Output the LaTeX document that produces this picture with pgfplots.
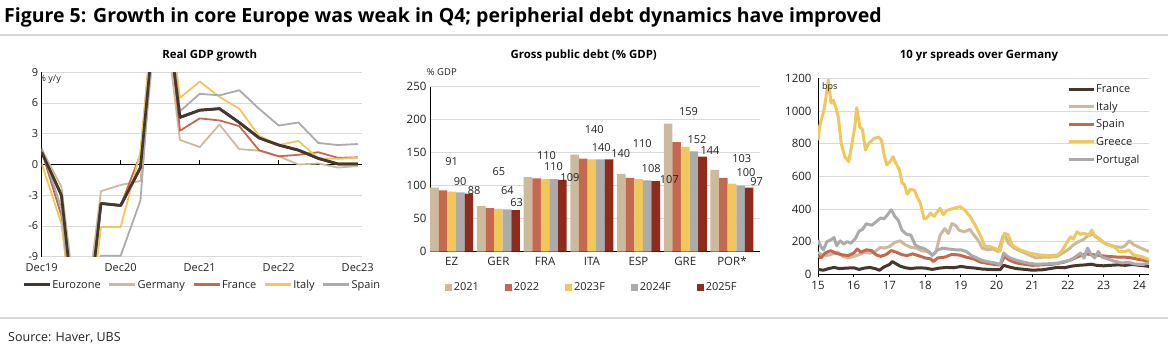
\documentclass[border=0pt]{standalone}
\usepackage{pgfplots}
\usepackage{pgfplotstable}
\pgfplotsset{compat=1.18}
\usepackage{fontspec}
\setmainfont{Open Sans}
\definecolor{cdark}{HTML}{45372E}
\definecolor{cbeige}{HTML}{CDB99B}
\definecolor{csalmon}{HTML}{C5694E}
\definecolor{cyellow}{HTML}{F0C75A}
\definecolor{cgrey}{HTML}{ABABAB}
\definecolor{cred}{HTML}{8E2B1C}
\definecolor{cgrid}{HTML}{D9D9D9}
\definecolor{ctext}{HTML}{222222}

\pgfplotstableread{
x ez ger fra ita esp
0 1.2 1.5 1.3 0.1 1.6
1 -3.0 -2.2 -5.0 -5.8 -4.3
2 -21 -18 -22 -22 -24
3 -3.8 -2.6 -3.8 -6.1 -8.9
4 -4.0 -2.0 -4.0 -6.1 -8.9
5 -0.3 -1.6 1.0 1.2 -3.5
6 20 18 22 22 22
7 4.6 2.4 3.3 6.5 5.2
8 5.3 1.7 4.5 8.1 6.9
9 5.45 3.9 4.3 6.6 6.75
10 4.1 1.5 3.75 5.45 7.25
11 2.6 1.35 1.4 2.8 5.45
12 1.9 0.8 0.8 1.9 3.8
13 1.4 0.0 0.95 2.3 4.1
14 0.6 0.1 1.2 0.6 2.1
15 0.05 -0.3 0.65 0.55 1.9
16 0.05 -0.15 0.7 0.65 2.0
}\gdp

\pgfplotstableread{
x a b c d e
0 97 93 91 90 88
1 69 66 65 64 63
2 113 111 110 110 109
3 147 141 140 140 140
4 118 112 110 108 107
5 194 166 159 152 144
6 124 112 103 100 97
}\debt

\pgfplotstableread{
x y l
0.00 136 91
0.18 106 90
0.48 92 88
1.01 121 65
1.19 93 64
1.39 74 63
2.03 146 110
2.18 129 110
2.53 113 109
3.05 185 140
3.20 158 140
3.62 149 140
4.08 164 110
4.27 126 108
4.66 108.6 107
5.07 212 159
5.25 170 152
5.53 152.5 144
6.21 141 103
6.30 120 100
6.53 106 97
}\debtlabels

\pgfplotstableread{
x y
15.00 30
15.15 25
15.30 35
15.45 42
15.60 35
15.80 38
16.00 40
16.15 30
16.30 38
16.45 42
16.60 35
16.72 25
16.85 45
17.00 60
17.08 78
17.18 65
17.30 50
17.45 40
17.60 35
17.80 40
18.00 38
18.20 30
18.40 38
18.60 42
18.80 40
19.00 48
19.20 42
19.40 38
19.60 32
19.80 30
20.00 28
20.10 28
20.20 55
20.35 45
20.55 35
20.80 30
21.00 25
21.30 28
21.50 35
21.70 42
21.90 40
22.10 50
22.30 55
22.50 58
22.65 62
22.80 55
23.00 52
23.20 55
23.40 58
23.60 55
23.80 60
24.00 55
24.15 52
24.27 48
}\sfra

\pgfplotstableread{
x y
15.00 135
15.10 120
15.25 115
15.40 125
15.55 135
15.70 110
15.85 100
16.00 110
16.15 120
16.30 135
16.45 130
16.60 140
16.75 165
16.85 160
17.00 170
17.15 195
17.30 205
17.45 180
17.60 165
17.75 160
17.90 145
18.05 140
18.20 120
18.30 135
18.42 240
18.55 280
18.65 250
18.75 310
18.85 300
18.95 270
19.10 260
19.25 275
19.35 245
19.48 210
19.60 160
19.75 150
19.90 155
20.05 140
20.18 235
20.25 230
20.33 190
20.50 160
20.70 140
20.90 120
21.10 100
21.30 105
21.50 105
21.70 110
21.85 130
22.00 150
22.15 180
22.30 200
22.45 215
22.55 235
22.70 245
22.80 230
22.95 200
23.10 185
23.30 170
23.50 165
23.60 175
23.72 205
23.85 180
24.00 165
24.15 150
24.27 140
}\sita

\pgfplotstableread{
x y
15.00 115
15.08 100
15.20 130
15.35 145
15.50 130
15.65 120
15.85 115
16.00 130
16.10 155
16.20 135
16.35 150
16.50 145
16.62 120
16.75 110
16.90 120
17.05 145
17.20 135
17.35 120
17.50 115
17.65 125
17.80 115
18.00 100
18.15 95
18.23 78
18.35 100
18.55 105
18.75 122
18.95 118
19.15 105
19.35 95
19.55 75
19.75 67
19.95 60
20.10 57
20.22 110
20.35 88
20.55 70
20.80 61
21.00 55
21.30 58
21.60 62
21.90 75
22.10 90
22.30 110
22.50 125
22.70 120
22.90 115
23.10 110
23.40 105
23.60 105
23.80 100
24.00 90
24.15 85
24.27 82
}\sesp

\pgfplotstableread{
x y
15.00 820
15.04 900
15.10 950
15.17 1010
15.22 1080
15.29 1190
15.33 1120
15.36 1050
15.43 1065
15.50 1020
15.57 960
15.65 800
15.75 720
15.86 690
15.95 800
16.03 900
16.08 1020
16.13 960
16.17 900
16.24 890
16.33 760
16.42 800
16.55 830
16.70 840
16.78 820
16.86 720
16.93 670
17.02 690
17.10 720
17.18 680
17.28 640
17.35 560
17.42 550
17.50 490
17.58 520
17.70 515
17.78 470
17.86 440
17.97 340
18.05 345
18.15 375
18.25 355
18.42 405
18.51 365
18.60 390
18.79 404
18.98 414
19.10 395
19.26 353
19.40 302
19.54 241
19.68 169
19.82 169
19.96 159
20.10 143
20.22 251
20.33 241
20.43 180
20.66 149
20.94 129
21.22 118
21.50 114
21.69 118
21.80 135
21.93 180
22.07 230
22.15 215
22.25 260
22.35 245
22.44 251
22.58 241
22.67 271
22.76 230
22.90 215
23.05 185
23.20 175
23.33 163
23.42 140
23.60 139
23.70 149
23.84 118
24.07 108
24.27 90
}\sgre

\pgfplotstableread{
x y
15.00 210
15.08 170
15.15 150
15.25 200
15.35 210
15.45 225
15.52 175
15.62 205
15.72 185
15.82 200
15.92 190
16.05 220
16.15 265
16.25 275
16.35 310
16.50 300
16.62 320
16.75 345
16.85 340
16.95 365
17.05 395
17.15 355
17.25 330
17.35 270
17.48 245
17.60 240
17.72 180
17.85 165
17.95 160
18.10 140
18.20 115
18.35 150
18.50 160
18.65 155
18.85 150
19.00 150
19.15 140
19.30 115
19.45 100
19.60 85
19.80 75
19.95 70
20.10 60
20.20 130
20.33 105
20.50 90
20.70 78
20.90 68
21.10 62
21.40 64
21.70 68
21.90 78
22.05 85
22.20 105
22.35 130
22.45 100
22.55 160
22.65 120
22.75 100
22.85 140
22.95 105
23.10 95
23.30 80
23.50 70
23.70 72
23.90 62
24.10 60
24.27 70
}\spor

\begin{document}
\begin{tikzpicture}
\useasboundingbox (0pt,0pt) rectangle (1174pt,351pt);
% header / footer
\node[anchor=base west, font=\bfseries\fontsize{19.5}{22}\selectfont, inner sep=0pt] at (4pt,328.3pt) {Figure 5: Growth in core Europe was weak in Q4; peripherial debt dynamics have improved};
\draw[cgrid, line width=2pt] (0pt,316pt) -- (1168pt,316pt);
\draw[cgrid, line width=1.5pt] (0pt,33pt) -- (1168pt,33pt);
\node[anchor=base west, font=\fontsize{12.5}{15}\selectfont, text=ctext, inner sep=0pt] at (8pt,10pt) {Source: Haver, UBS};
% panel titles
\node[anchor=base, font=\bfseries\fontsize{11.4}{13}\selectfont, inner sep=0pt] at (209.7pt,292.7pt) {Real GDP growth};
\node[anchor=base, font=\bfseries\fontsize{11.4}{13}\selectfont, inner sep=0pt] at (583.7pt,292.7pt) {Gross public debt (\% GDP)};
\node[anchor=base, font=\bfseries\fontsize{11.4}{13}\selectfont, inner sep=0pt] at (979pt,292.7pt) {10 yr spreads over Germany};
\node[anchor=base west, font=\fontsize{9.5}{11}\selectfont, text=ctext, inner sep=0pt] at (426.7pt,275pt) {\% GDP};

% ---------- Real GDP growth ----------
\begin{axis}[
  at={(41.7pt,94.3pt)}, anchor=south west,
  scale only axis, width=320pt, height=184.4pt,
  xmin=0, xmax=16.2, ymin=-9, ymax=9,
  axis x line*=bottom, axis y line*=left,
  x axis line style={draw=none},
  y axis line style={black, line width=1pt},
  xtick={0,4,8,12,16}, xticklabels={Dec19,Dec20,Dec21,Dec22,Dec23},
  ytick={-9,-6,-3,3,6,9}, yticklabels={-9,-6,-3,3,6,9},
  extra y ticks={0}, extra y tick labels={0},
  extra y tick style={ymajorgrids=true, major grid style={black, line width=1pt}},
  ymajorgrids, major grid style={cgrid, line width=0.8pt},
  tick style={draw=none},
  ticklabel style={font=\fontsize{11}{13}\selectfont, text=ctext},
  xticklabel style={yshift=-3.5pt},
  legend columns=5,
  legend style={at={(0.5,-0.153)}, anchor=center, draw=none, fill=none,
    font=\fontsize{11}{13}\selectfont, text=ctext,
    /tikz/every even column/.append style={column sep=6pt},
    nodes={inner sep=1pt}},
  legend image code/.code={\draw[#1, line width=3pt] (0pt,0pt) -- (26pt,0pt);},
  every axis plot/.append style={line join=round},
]
\addplot[cdark, line width=2.7pt] table[x=x,y=ez] {\gdp};
\addlegendentry{Eurozone}
\addplot[cbeige, line width=1.8pt] table[x=x,y=ger] {\gdp};
\addlegendentry{Germany}
\addplot[csalmon, line width=1.8pt] table[x=x,y=fra] {\gdp};
\addlegendentry{France}
\addplot[cyellow, line width=1.8pt] table[x=x,y=ita] {\gdp};
\addlegendentry{Italy}
\addplot[cgrey, line width=1.8pt] table[x=x,y=esp] {\gdp};
\addlegendentry{Spain}
\addplot[cdark, line width=2.7pt, forget plot] table[x=x,y=ez] {\gdp};
\draw[black, line width=0.8pt] (axis cs:4,0) -- ++(0pt,4pt);
\draw[black, line width=0.8pt] (axis cs:8,0) -- ++(0pt,4pt);
\draw[black, line width=0.8pt] (axis cs:12,0) -- ++(0pt,4pt);
\node[anchor=north west, font=\fontsize{9}{11}\selectfont, text=ctext, inner sep=0pt] at (rel axis cs:-0.01,0.985) {\% y/y};
\end{axis}

% ---------- Gross public debt ----------
\begin{axis}[
  at={(430pt,99.3pt)}, anchor=south west,
  scale only axis, width=330pt, height=165pt,
  xmin=-0.465, xmax=6.6, ymin=0, ymax=250,
  axis x line*=bottom, axis y line*=left,
  axis line style={black, line width=0.8pt},
  xtick={0,1,2,3,4,5,6}, xticklabels={EZ,GER,FRA,ITA,ESP,GRE,POR*},
  ytick={0,50,100,150,200,250}, yticklabels={0,50,100,150,200,250},
  ymajorgrids, major grid style={cgrid, line width=0.8pt},
  tick style={draw=none},
  ticklabel style={font=\fontsize{11.5}{13}\selectfont, text=ctext},
  xticklabel style={yshift=-2pt},
  legend columns=5,
  legend style={at={(0.49,-0.214)}, anchor=center, draw=none, fill=none,
    font=\fontsize{11}{13}\selectfont, text=ctext,
    /tikz/every even column/.append style={column sep=24pt},
    nodes={inner sep=2pt}},
  legend image code/.code={\fill[#1] (0pt,-3.5pt) rectangle (7pt,3.5pt);},
]
\addplot[ybar, bar width=0.184, bar shift=-0.368, fill=cbeige, draw=none] table[x=x,y=a] {\debt};
\addlegendentry{2021}
\addplot[ybar, bar width=0.184, bar shift=-0.184, fill=csalmon, draw=none] table[x=x,y=b] {\debt};
\addlegendentry{2022}
\addplot[ybar, bar width=0.184, bar shift=0, fill=cyellow, draw=none] table[x=x,y=c] {\debt};
\addlegendentry{2023F}
\addplot[ybar, bar width=0.184, bar shift=0.184, fill=cgrey, draw=none] table[x=x,y=d] {\debt};
\addlegendentry{2024F}
\addplot[ybar, bar width=0.184, bar shift=0.368, fill=cred, draw=none] table[x=x,y=e] {\debt};
\addlegendentry{2025F}
\addplot[draw=none, mark=none, forget plot, nodes near coords, point meta=explicit symbolic,
  every node near coord/.style={anchor=center, font=\fontsize{11}{13}\selectfont, text=ctext, inner sep=0pt}]
  table[x=x,y=y,meta=l] {\debtlabels};
\end{axis}

% ---------- 10 yr spreads ----------
\begin{axis}[
  at={(818pt,76.7pt)}, anchor=south west,
  scale only axis, width=331pt, height=196pt,
  xmin=15, xmax=24.27, ymin=0, ymax=1200,
  axis x line*=bottom, axis y line*=left,
  axis line style={black, line width=0.8pt},
  xtick={15,16,17,18,19,20,21,22,23,24}, xticklabels={15,16,17,18,19,20,21,22,23,24},
  ytick={0,200,400,600,800,1000,1200}, yticklabels={0,200,400,600,800,1000,1200},
  ymajorgrids, major grid style={cgrid, line width=0.8pt},
  ytick style={draw=none},
  xtick style={draw=black, line width=0.8pt}, tick align=outside, major tick length=3pt,
  ticklabel style={font=\fontsize{11.5}{13}\selectfont, text=ctext},
  legend cell align=left,
  legend style={at={(0.743,0.985)}, anchor=north west, draw=none, fill=none,
    font=\fontsize{11}{13}\selectfont, text=ctext, row sep=6pt,
    nodes={inner sep=1pt}},
  legend image code/.code={\draw[#1, line width=3pt] (0pt,0pt) -- (25pt,0pt);},
  every axis plot/.append style={line join=round, line width=3pt},
]
\addplot[cdark] table[x=x,y=y] {\sfra};
\addlegendentry{France}
\addplot[cbeige] table[x=x,y=y] {\sita};
\addlegendentry{Italy}
\addplot[csalmon] table[x=x,y=y] {\sesp};
\addlegendentry{Spain}
\addplot[cyellow] table[x=x,y=y] {\sgre};
\addlegendentry{Greece}
\addplot[cgrey] table[x=x,y=y] {\spor};
\addlegendentry{Portugal}
\node[anchor=north west, font=\fontsize{9}{11}\selectfont, text=ctext, inner sep=0pt] at (rel axis cs:0.012,0.98) {bps};
\end{axis}
\end{tikzpicture}
\end{document}
